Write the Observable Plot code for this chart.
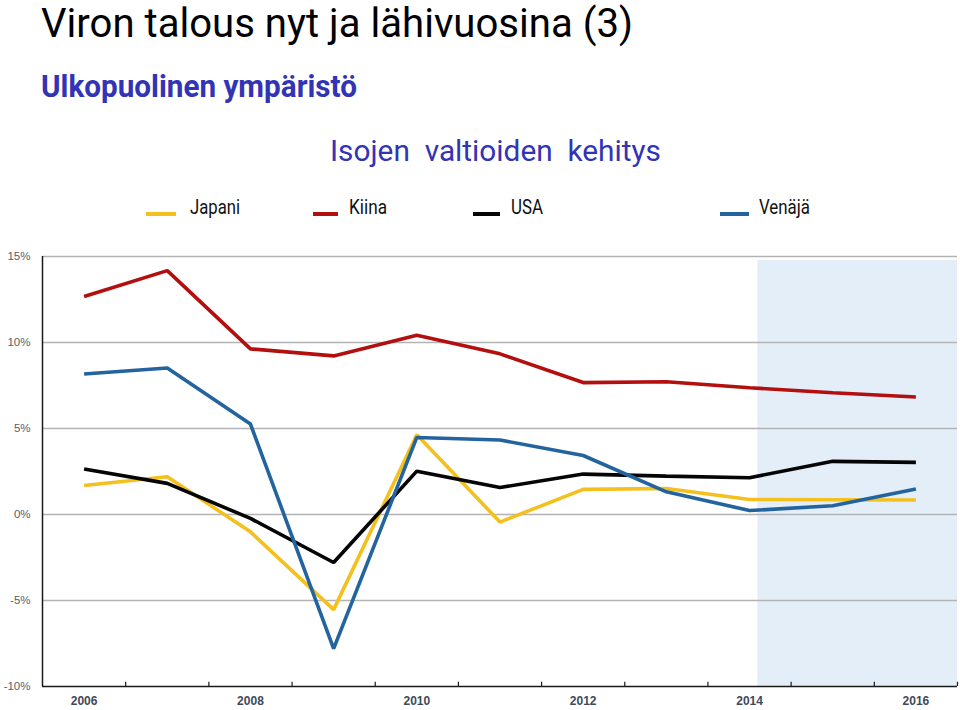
<!DOCTYPE html>
<html>
<head>
<meta charset="utf-8">
<script src="https://cdn.jsdelivr.net/npm/d3@7"></script>
<script src="https://cdn.jsdelivr.net/npm/@observablehq/plot@0.6"></script>
<style>
  html, body { margin: 0; padding: 0; background: #fff; }
  #wrap { position: relative; width: 960px; height: 710px; overflow: hidden; background: #fff; }
  .t { position: absolute; white-space: pre; font-family: Roboto, "Noto Sans", sans-serif; transform-origin: 0 0; display: inline-block; }
  .sw { position: absolute; height: 4px; }
  #chart { position: absolute; left: 0; top: 240px; }
  #chart g[aria-label="x-axis tick label"] { font-size: 12px !important; font-weight: bold; }
  #chart g[aria-label="y-axis tick label"] { font-size: 11.5px !important; }
</style>
</head>
<body>
<div id="wrap">
  <div class="t" id="title" style="left:41px; top:4.3px; font-size:40px; line-height:40px; color:#000;" data-w="592">Viron talous nyt ja lähivuosina (3)</div>
  <div class="t" id="subtitle" style="left:41px; top:70px; font-size:32px; line-height:32px; font-weight:bold; color:#3333b5;" data-w="316">Ulkopuolinen ympäristö</div>
  <div class="t" id="ctitle" style="left:330px; top:136px; font-size:30px; line-height:30px; color:#3333b5;" data-w="331">Isojen  valtioiden  kehitys</div>
  <div id="legend"></div>
  <div id="chart"></div>
</div>
<script>
// ---- data ----
const years = [2006, 2007, 2008, 2009, 2010, 2011, 2012, 2013, 2014, 2015, 2016];
const japani = [1.69, 2.19, -1.01, -5.53, 4.64, -0.44, 1.46, 1.51, 0.87, 0.86, 0.84];
const kiina  = [12.67, 14.18, 9.63, 9.22, 10.42, 9.34, 7.67, 7.72, 7.37, 7.08, 6.83];
const usa    = [2.64, 1.81, -0.23, -2.79, 2.52, 1.57, 2.35, 2.23, 2.14, 3.09, 3.03];
const venaja = [8.17, 8.52, 5.26, -7.80, 4.48, 4.33, 3.43, 1.32, 0.23, 0.51, 1.48];
const seriesNames = ["Japani", "Kiina", "USA", "Venäjä"];
const seriesColors = ["#f4c01e", "#b40f0f", "#050505", "#23649e"];
const yTicks = [-10, -5, 0, 5, 10, 15];
const xLabelYears = [2006, 2008, 2010, 2012, 2014, 2016];
const forecastFrom = 2014.1;
const forecastTo = 2016.5;
const forecastTop = 14.77;

// ---- build tables ----
const seriesValues = [japani, kiina, usa, venaja];
const rows = [];
seriesNames.forEach((name, i) => {
  years.forEach((yr, j) => rows.push({series: name, year: yr, value: seriesValues[i][j]}));
});
const shade = [{x1: forecastFrom, x2: forecastTo, y1: -10, y2: forecastTop}];
const bandEdges = years.map(y => y + 0.5);
const xMin = years[0] - 0.5, xMax = years[years.length - 1] + 0.5;

const chart = Plot.plot({
  width: 960,
  height: 470,
  marginLeft: 42,
  marginRight: 3,
  marginTop: 16,
  marginBottom: 24,
  style: {fontFamily: "'Liberation Sans', Arial, sans-serif", fontSize: "11px", background: "transparent"},
  x: {domain: [xMin, xMax]},
  y: {domain: [-10, 15]},
  color: {domain: seriesNames, range: seriesColors},
  marks: [
    Plot.rect(shade, {x1: "x1", x2: "x2", y1: "y1", y2: "y2", fill: "#e3eef8"}),
    Plot.ruleY(yTicks.filter(d => d > -10), {stroke: "#b3b3b3", strokeWidth: 1.6}),
    Plot.ruleY([-10], {stroke: "#1a1a1a", strokeWidth: 1.5}),
    Plot.ruleX([xMin], {y1: -10, y2: 15, stroke: "#1a1a1a", strokeWidth: 1.5}),
    Plot.ruleX(bandEdges, {y1: -10, y2: -9.75, stroke: "#1a1a1a", strokeWidth: 1.2}),
    Plot.line(rows, {x: "year", y: "value", z: "series", stroke: "series", strokeWidth: 3.6, strokeLinejoin: "miter", strokeLinecap: "butt"}),
    Plot.axisY({ticks: yTicks, tickFormat: d => d + "%", tickSize: 0, tickPadding: 12, fill: "#555e6c", label: null}),
    Plot.axisX({ticks: xLabelYears, tickFormat: d => String(d), tickSize: 0, tickPadding: 10, fill: "#3e4a5b", label: null})
  ]
});
document.getElementById("chart").appendChild(chart);
chart.querySelectorAll('g[aria-label="x-axis tick label"]').forEach(g => { g.setAttribute("font-size", "12"); g.setAttribute("font-weight", "bold"); });
chart.querySelectorAll('g[aria-label="y-axis tick label"]').forEach(g => { g.setAttribute("font-size", "11.5"); });

// ---- legend (HTML) ----
const legendLayout = [
  {sx: 146, sw: 30, tx: 190, tw: 50},
  {sx: 313, sw: 25, tx: 349, tw: 38},
  {sx: 473, sw: 27, tx: 511, tw: 32},
  {sx: 720, sw: 29, tx: 759, tw: 51}
];
const legend = document.getElementById("legend");
seriesNames.forEach((name, i) => {
  const L = legendLayout[i];
  const s = document.createElement("div");
  s.className = "sw";
  s.style.left = L.sx + "px";
  s.style.width = L.sw + "px";
  s.style.top = "212px";
  s.style.background = seriesColors[i];
  legend.appendChild(s);
  const t = document.createElement("div");
  t.className = "t";
  t.textContent = name;
  t.style.left = L.tx + "px";
  t.style.top = "196.5px";
  t.style.fontSize = "20px";
  t.style.lineHeight = "20px";
  t.style.color = "#111";
  t.dataset.w = L.tw;
  legend.appendChild(t);
});

// ---- fit condensed-looking text widths ----
document.querySelectorAll(".t[data-w]").forEach(el => {
  const w = el.getBoundingClientRect().width;
  const target = +el.dataset.w;
  if (w > 0) el.style.transform = `scaleX(${target / w})`;
});
</script>
</body>
</html>
